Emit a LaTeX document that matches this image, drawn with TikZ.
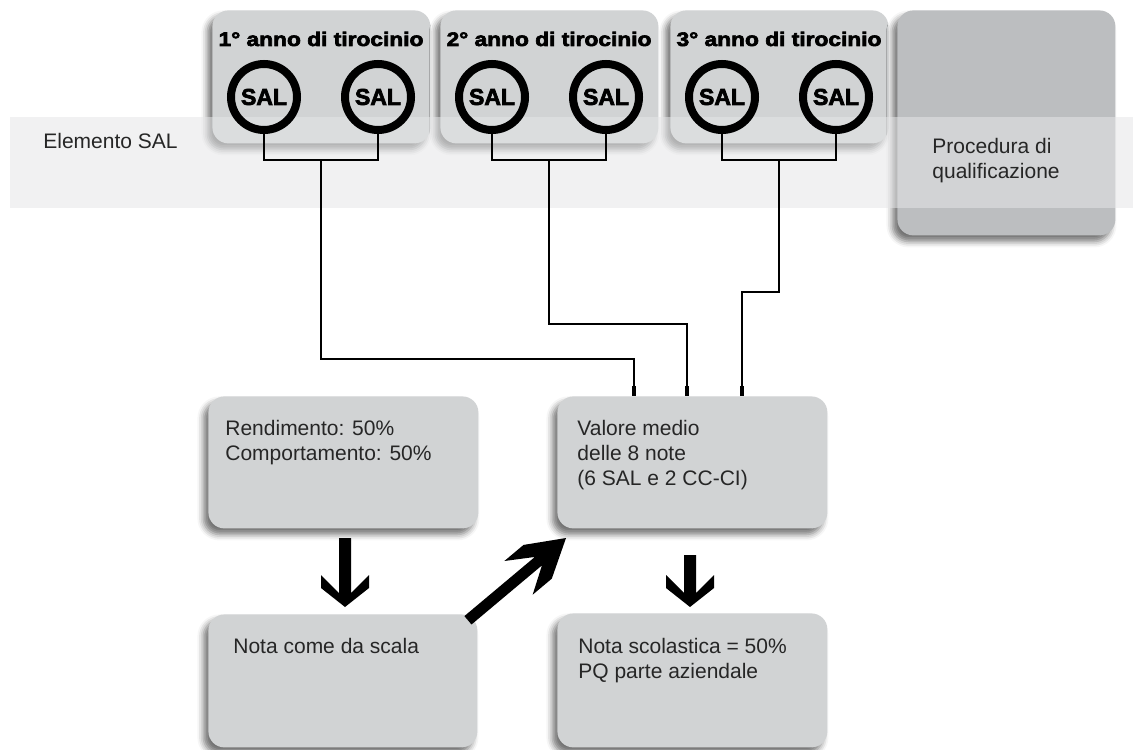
\documentclass[tikz,border=0pt]{standalone}
\usepackage{fontspec}
\setmainfont{Liberation Sans}
\newfontfamily\blackfont{Liberation Sans}[FakeBold=3]
\usepackage{graphicx}
\usetikzlibrary{shadows.blur}
\definecolor{boxgray}{HTML}{D1D3D4}
\definecolor{qgray}{HTML}{BCBEC0}
\definecolor{bandgray}{RGB}{229,230,231}
\tikzset{
  pics/fatA/.style={code={\fill (0,0) -- (-19,24) -- (-32,24) -- (-14,6) -- (-#1,6) -- (-#1,-6) -- (-14,-6) -- (-32,-24) -- (-19,-24) -- cycle;}},
  pics/fatB/.style={code={\fill (0,0) -- (-37,22) -- (-62,22) -- (-36,5.5) -- (-#1,5.5) -- (-#1,-5.5) -- (-36,-5.5) -- (-62,-22) -- (-37,-22) -- cycle;}}
}
\begin{document}
\begin{tikzpicture}[x=0.5pt,y=-0.5pt,
  box/.style={fill=boxgray, rounded corners=8pt, inner sep=0pt, anchor=north west,
    blur shadow={shadow xshift=-2.5pt, shadow yshift=-3pt, shadow blur radius=3pt, shadow opacity=55}},
  sal/.style={circle, draw=black, line width=4pt, minimum size=33pt, inner sep=0pt,
    font={\blackfont\bfseries\fontsize{11.5pt}{12pt}\selectfont}},
  title/.style={anchor=base, inner sep=0pt, font={\blackfont\bfseries\fontsize{9.8pt}{11pt}\selectfont}},
  txt/.style={anchor=north west, inner sep=0pt, align=left, font={\fontsize{10.5pt}{12.5pt}\selectfont}, text=black!85},
  conn/.style={line width=0.8pt},
  stub/.style={line width=1.8pt}
]
\useasboundingbox (0,0) rectangle (1144,749);

% top boxes
\node[box, minimum width=109pt, minimum height=66.5pt] (y1) at (212,10) {};
\node[box, minimum width=109pt, minimum height=66.5pt] (y2) at (440,10) {};
\node[box, minimum width=109pt, minimum height=66.5pt] (y3) at (670,10) {};
\node[box, fill=qgray, minimum width=109pt, minimum height=112.5pt] (Q) at (897,10) {};

% lower boxes
\node[box, minimum width=135pt, minimum height=66pt] (R) at (208,396) {};
\node[box, minimum width=135pt, minimum height=66pt] (V) at (557,396) {};
\node[box, minimum width=134.5pt, minimum height=66.5pt] (N) at (208,614) {};
\node[box, minimum width=135pt, minimum height=67pt] (S) at (557,613) {};

% band
\fill[bandgray, opacity=0.54] (10,117) rectangle (1133,208);

% titles
\node[title] (t1) at (321,46) {\scalebox{1.16}[1]{1° anno di tirocinio}};
\node[title] (t2) at (549,46) {\scalebox{1.16}[1]{2° anno di tirocinio}};
\node[title] (t3) at (779,46) {\scalebox{1.16}[1]{3° anno di tirocinio}};

% SAL circles
\node[sal] (c11) at (264,97) {SAL};
\node[sal] (c12) at (378,97) {SAL};
\node[sal] (c21) at (492,97) {SAL};
\node[sal] (c22) at (606,97) {SAL};
\node[sal] (c31) at (722,97) {SAL};
\node[sal] (c32) at (836,97) {SAL};

% connector coordinates
\coordinate (j1) at (321,160);
\coordinate (j2) at (549,160);
\coordinate (j3) at (779,160);
\coordinate (b1) at (634,359);
\coordinate (b2) at (687,324);
\coordinate (b3) at (742,292);
\coordinate (s1) at (634,386);
\coordinate (s2) at (687,386);
\coordinate (s3) at (742,386);

\draw[conn] (c11.south) |- (j1) -| (c12.south);
\draw[conn] (c21.south) |- (j2) -| (c22.south);
\draw[conn] (c31.south) |- (j3) -| (c32.south);
\draw[conn] (j1) |- (b1) -- (s1);
\draw[conn] (j2) |- (b2) -- (s2);
\draw[conn] (j3) |- (b3) -- (s3);
\draw[stub] (s1) -- (s1 |- V.north);
\draw[stub] (s2) -- (s2 |- V.north);
\draw[stub] (s3) -- (s3 |- V.north);

% texts
\node[txt] (tE) at (43,133) {Elemento SAL};
\node[txt] (tQ) at (932,138) {Procedura di\\qualificazione};
\node[txt] (tR) at (225,420) {Rendimento: 50\%\\Comportamento: 50\%};
\node[txt] (tV) at (577,420) {Valore medio\\delle 8 note\\(6 SAL e 2 CC-CI)};
\node[txt] (tN) at (233,638) {Nota come da scala};
\node[txt] (tS) at (578,638) {Nota scolastica = 50\%\\PQ parte aziendale};

% fat arrows
\coordinate (a1) at (345,607);
\coordinate (a2) at (690,607);
\coordinate (a3) at (566,538);
\pic[rotate=-90] at (a1) {fatA=69};
\pic[rotate=-90] at (a2) {fatA=52};
\pic[rotate=40] at (a3) {fatB=128};
\end{tikzpicture}
\end{document}
